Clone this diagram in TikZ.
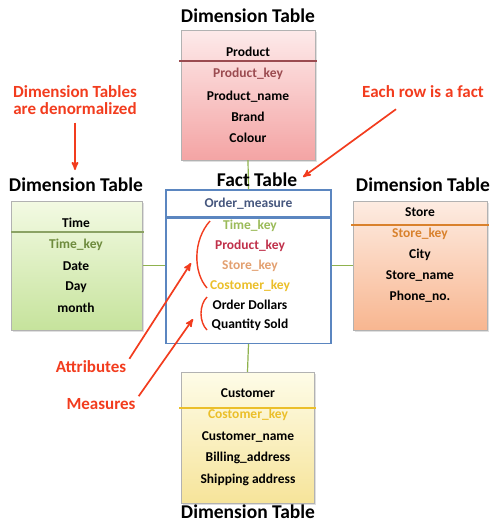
\documentclass[tikz,border=0pt]{standalone}
\usepackage{fontspec}
\setmainfont{Carlito}
\usetikzlibrary{arrows,shadows,positioning}

\definecolor{pinktop}{HTML}{FDEAEA}
\definecolor{pinkbot}{HTML}{F4A4A4}
\definecolor{greentop}{HTML}{F3FAE3}
\definecolor{greenbot}{HTML}{C6E39C}
\definecolor{peachtop}{HTML}{FDECE2}
\definecolor{peachbot}{HTML}{F8B690}
\definecolor{yellowtop}{HTML}{FEFCE8}
\definecolor{yellowbot}{HTML}{F6E49A}
\definecolor{prodred}{HTML}{9B4B50}
\definecolor{timegreen}{HTML}{6E8B3D}
\definecolor{storeorange}{HTML}{D9812C}
\definecolor{custyellow}{HTML}{EBBF2A}
\definecolor{factblue}{HTML}{5B86C0}
\definecolor{measureblue}{HTML}{46577E}
\definecolor{keygreen}{HTML}{9BBB59}
\definecolor{keyred}{HTML}{C0304A}
\definecolor{keypeach}{HTML}{E3A070}
\definecolor{linkgreen}{HTML}{8FB24E}
\definecolor{annot}{HTML}{F23C1E}

\begin{document}
\begin{tikzpicture}[x=1pt,y=-1pt,>=stealth',
    dim/.style={draw=gray!60, drop shadow={opacity=0.25,shadow xshift=1.5pt,shadow yshift=-1.5pt}},
    fact/.style={draw=factblue, line width=1.3pt, fill=white, minimum width=165pt},
    row/.style={font=\bfseries\fontsize{13.5}{15}\selectfont, inner sep=0pt},
    title/.style={font=\bfseries\fontsize{19.5}{22}\selectfont, inner sep=0pt, anchor=base},
    note/.style={text=annot, font=\bfseries\fontsize{17}{17}\selectfont, align=center, inner sep=0pt},
    link/.style={draw=linkgreen, line width=1.2pt},
    pointer/.style={->, draw=annot, line width=1.7pt},
    brace/.style={draw=annot, line width=1.4pt}]

    \useasboundingbox (0,0) rectangle (492,523);

    % tables
    \node[dim, top color=pinktop, bottom color=pinkbot, minimum width=134pt, minimum height=130pt] (product) at (248,95) {};
    \node[dim, top color=greentop, bottom color=greenbot, minimum width=131pt, minimum height=129pt] (time) at (77,265.5) {};
    \node[dim, top color=peachtop, bottom color=peachbot, minimum width=134pt, minimum height=129pt] (store) at (420,265.5) {};
    \node[dim, top color=yellowtop, bottom color=yellowbot, minimum width=133pt, minimum height=131pt] (customer) at (247.5,437.5) {};
    \node[fact, minimum height=27pt] (facthead) at (248.5,203.5) {};
    \node[fact, minimum height=125pt, below=0pt of facthead] (factbody) {};

    % links
    \draw[link] (product.south) -- (facthead.north);
    \draw[link] (time.east) -- (time.east -| factbody.west);
    \draw[link] (store.west -| factbody.east) -- (store.west);
    \draw[link] (factbody.south) -- (customer.north);

    % key separators
    \draw[prodred, line width=1.5pt] (179,61) -- (317,61);
    \draw[timegreen!80, line width=1.5pt] (11,232) -- (144,232);
    \draw[storeorange, line width=1.5pt] (351,225) -- (489,225);
    \draw[custyellow, line width=1.5pt] (179,408) -- (316,408);

    % titles
    \node[title] (prodtitle)  at (248,22)  {Dimension Table};
    \node[title] (timetitle)  at (76,191)  {Dimension Table};
    \node[title] (storetitle) at (423,191) {Dimension Table};
    \node[title] (facttitle)  at (257,186) {Fact Table};
    \node[title] (custtitle)  at (248,518) {Dimension Table};

    % product
    \node[row]                (p0) at (248,52)  {Product};
    \node[row, text=prodred]  (p1) at (248,74)  {Product\_key};
    \node[row]                (p2) at (248,97)  {Product\_name};
    \node[row]                (p3) at (248,117) {Brand};
    \node[row]                (p4) at (248,138) {Colour};

    % time
    \node[row]                 (t0) at (76,223) {Time};
    \node[row, text=timegreen] (t1) at (76,245) {Time\_key};
    \node[row]                 (t2) at (76,266) {Date};
    \node[row]                 (t3) at (76,287) {Day};
    \node[row]                 (t4) at (76,308) {month};

    % store
    \node[row]                   (s0) at (420,212) {Store};
    \node[row, text=storeorange] (s1) at (420,234) {Store\_key};
    \node[row]                   (s2) at (420,255) {City};
    \node[row]                   (s3) at (420,276) {Store\_name};
    \node[row]                   (s4) at (420,297) {Phone\_no.};

    % customer
    \node[row]                  (c0) at (248,393) {Customer};
    \node[row, text=custyellow] (c1) at (248,415) {Costomer\_key};
    \node[row]                  (c2) at (248,437) {Customer\_name};
    \node[row]                  (c3) at (248,458) {Billing\_address};
    \node[row]                  (c4) at (248,480) {Shipping address};

    % fact
    \node[row, text=measureblue] (f0) at (facthead) {Order\_measure};
    \node[row, text=keygreen]    (f1) at (250,226) {Time\_key};
    \node[row, text=keyred]      (f2) at (250,246) {Product\_key};
    \node[row, text=keypeach]    (f3) at (250,266) {Store\_key};
    \node[row, text=custyellow]  (f4) at (250,286) {Costomer\_key};
    \node[row]                   (f5) at (250,305) {Order Dollars};
    \node[row]                   (f6) at (250,325) {Quantity Sold};

    % brackets
    \draw[brace] (210,221) .. controls (193,240) and (193,272) .. (207,288);
    \draw[brace] (207,297) .. controls (199,305) and (199,322) .. (207,330);

    % notes
    \node[note] (denorm)  at (75,100)  {Dimension Tables\\are denormalized};
    \node[note] (rowfact) at (423,92)  {Each row is a fact};
    \node[note] (attrib)  at (91,367)  {Attributes};
    \node[note] (meas)    at (101,404) {Measures};
    \coordinate (denormtip) at (75,170);
    \coordinate (facttip)   at (303,177);
    \coordinate (attribtip) at (191,263);
    \coordinate (meastip)   at (193,319);

    \draw[pointer, shorten <=8pt] (denorm.south) -- (denormtip);
    \draw[pointer] ([shift={(-27,11)}]rowfact.south) -- (facttip);
    \draw[pointer] ([shift={(3,-2)}]attrib.north east) -- (attribtip);
    \draw[pointer] ([shift={(3,-2)}]meas.north east) -- (meastip);
\end{tikzpicture}
\end{document}
